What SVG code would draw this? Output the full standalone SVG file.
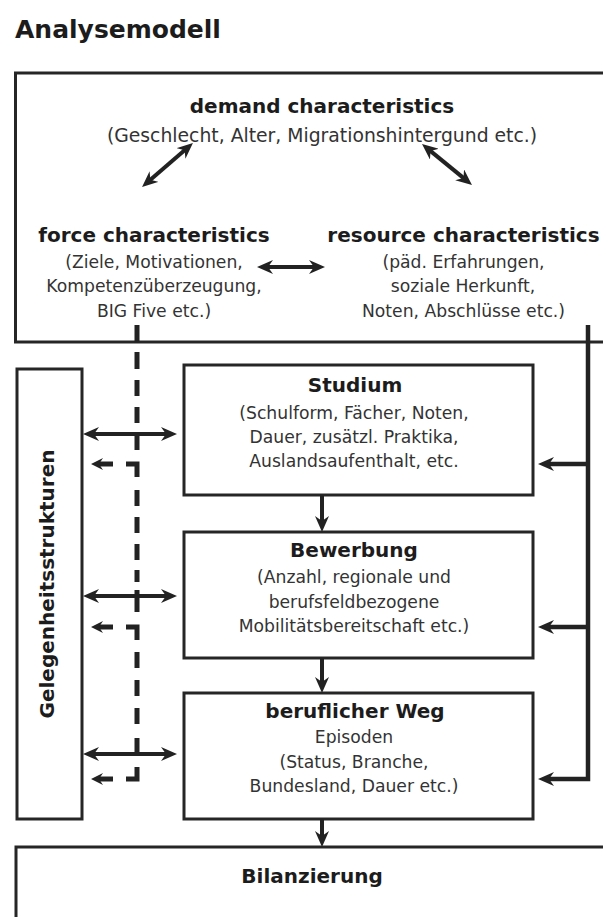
<svg xmlns="http://www.w3.org/2000/svg" width="603" height="917" viewBox="0 0 603 917">
<style>
  .box{fill:none;stroke:#262626;stroke-width:3}
  .h{font-family:"DejaVu Sans",sans-serif;font-weight:bold;font-size:20px;fill:#1c1c1c;text-anchor:middle}
  .t{font-family:"DejaVu Sans",sans-serif;font-size:17.2px;fill:#333;text-anchor:middle}
  .ln{fill:none;stroke:#222;stroke-width:4}
  .thick{fill:none;stroke:#222;stroke-width:4.5;stroke-linejoin:miter}
  .dash{fill:none;stroke:#222;stroke-width:5;stroke-linejoin:miter}
</style>
<defs>
  <marker id="ah" markerUnits="userSpaceOnUse" markerWidth="16" markerHeight="14" refX="8" refY="7" orient="auto-start-reverse" viewBox="0 0 16 14">
    <path d="M0,0 L16,7 L0,14 L5,7 z" fill="#222"/>
  </marker>
  <marker id="ahs" markerUnits="userSpaceOnUse" markerWidth="12" markerHeight="12" refX="5" refY="6" orient="auto-start-reverse" viewBox="0 0 12 12">
    <path d="M0,0 L12,6 L0,12 L4,6 z" fill="#222"/>
  </marker>
</defs>
<rect width="603" height="917" fill="#fff"/>
<text x="15" y="38" font-family="DejaVu Sans, sans-serif" font-weight="bold" font-size="25" fill="#1c1c1c">Analysemodell</text>

<g id="characteristics">
  <rect class="box" x="15.5" y="73" width="600" height="269"/>
  <g id="demand">
    <text class="h" x="322" y="113">demand characteristics</text>
    <text class="t" x="322" y="142" style="font-size:18.8px">(Geschlecht, Alter, Migrationshintergund etc.)</text>
  </g>
  <g id="force">
    <text class="h" x="154" y="242">force characteristics</text>
    <text class="t" x="154" y="268">(Ziele, Motivationen,</text>
    <text class="t" x="154" y="292">Kompetenzüberzeugung,</text>
    <text class="t" x="154" y="317">BIG Five etc.)</text>
  </g>
  <g id="resource">
    <text class="h" x="463.5" y="242">resource characteristics</text>
    <text class="t" x="463.5" y="268">(päd. Erfahrungen,</text>
    <text class="t" x="463" y="292">soziale Herkunft,</text>
    <text class="t" x="463.5" y="317">Noten, Abschlüsse etc.)</text>
  </g>
</g>

<g id="gelegenheit">
  <rect class="box" x="17" y="369" width="65" height="450"/>
  <text class="h" transform="translate(54,584) rotate(-90)">Gelegenheitsstrukturen</text>
</g>

<g id="studium">
  <rect class="box" x="184" y="365" width="349" height="130"/>
  <text class="h" x="355" y="392">Studium</text>
  <text class="t" x="354" y="419">(Schulform, Fächer, Noten,</text>
  <text class="t" x="354" y="443">Dauer, zusätzl. Praktika,</text>
  <text class="t" x="354" y="467">Auslandsaufenthalt, etc.</text>
</g>

<g id="bewerbung">
  <rect class="box" x="184" y="532" width="349" height="126"/>
  <text class="h" x="354" y="557">Bewerbung</text>
  <text class="t" x="354" y="583">(Anzahl, regionale und</text>
  <text class="t" x="354" y="608">berufsfeldbezogene</text>
  <text class="t" x="354" y="632">Mobilitätsbereitschaft etc.)</text>
</g>

<g id="weg">
  <rect class="box" x="184" y="693" width="349" height="126"/>
  <text class="h" x="355" y="718">beruflicher Weg</text>
  <text class="t" x="354" y="743">Episoden</text>
  <text class="t" x="354" y="768">(Status, Branche,</text>
  <text class="t" x="354" y="792">Bundesland, Dauer etc.)</text>
</g>

<g id="bilanzierung">
  <rect class="box" x="16" y="847" width="600" height="100"/>
  <text class="h" x="312" y="883">Bilanzierung</text>
</g>

<g id="connectors">
  <!-- top double arrows -->
  <line class="ln" x1="186.9" y1="148.2" x2="148.1" y2="181.8" marker-start="url(#ah)" marker-end="url(#ah)"/>
  <line class="ln" x1="428.2" y1="149.1" x2="465.8" y2="179.9" marker-start="url(#ah)" marker-end="url(#ah)"/>
  <line class="ln" x1="265" y1="267" x2="317" y2="267" marker-start="url(#ah)" marker-end="url(#ah)"/>
  <!-- dashed force line -->
  <path class="dash" d="M137,325V342 M137,352V369 M137,380V396 M137,407V423 M137,434V450 M126,464H137V477 M137,490V506 M137,517V533 M137,544V560 M137,570V582 M137,590V612 M126,627H137V640 M137,652V668 M137,680V696 M137,708V724 M137,738V754 M137,767V779H126"/>
  <line class="dash" x1="113" y1="464" x2="98" y2="464" marker-end="url(#ahs)"/>
  <line class="dash" x1="113" y1="627" x2="98" y2="627" marker-end="url(#ahs)"/>
  <line class="dash" x1="113" y1="779" x2="98" y2="779" marker-end="url(#ahs)"/>
  <!-- Gelegenheitsstrukturen double arrows -->
  <line class="ln" x1="91" y1="434" x2="169" y2="434" marker-start="url(#ah)" marker-end="url(#ah)"/>
  <line class="ln" x1="91" y1="596" x2="169" y2="596" marker-start="url(#ah)" marker-end="url(#ah)"/>
  <line class="ln" x1="91" y1="754" x2="169" y2="754" marker-start="url(#ah)" marker-end="url(#ah)"/>
  <!-- resource line -->
  <path class="thick" d="M588,325V779H546" marker-end="url(#ah)"/>
  <line class="thick" x1="588" y1="464" x2="546" y2="464" marker-end="url(#ah)"/>
  <line class="thick" x1="588" y1="627" x2="546" y2="627" marker-end="url(#ah)"/>
  <!-- flow arrows -->
  <line class="ln" x1="322" y1="495" x2="322" y2="524" marker-end="url(#ah)"/>
  <line class="ln" x1="322" y1="658" x2="322" y2="685" marker-end="url(#ah)"/>
  <line class="ln" x1="322" y1="819" x2="322" y2="839" marker-end="url(#ah)"/>
</g>
</svg>
